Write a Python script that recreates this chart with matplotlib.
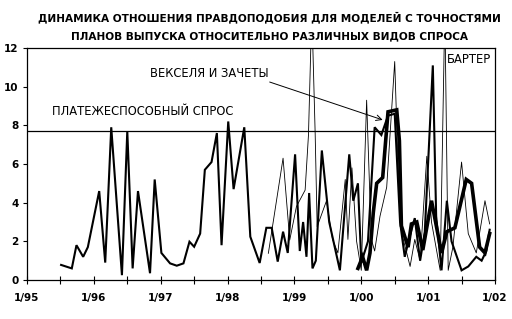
import matplotlib
matplotlib.use("Agg")
import matplotlib.pyplot as plt
from matplotlib import font_manager

# платежеспособный спрос (средняя линия)
solv_x = [1995.51, 1995.67, 1995.74, 1995.84, 1995.91, 1996.08, 1996.17, 1996.26, 1996.42,
          1996.50, 1996.58, 1996.66, 1996.84, 1996.91, 1997.01, 1997.14, 1997.24, 1997.34,
          1997.43, 1997.50, 1997.59, 1997.66, 1997.76, 1997.84, 1997.91, 1998.01, 1998.09,
          1998.25, 1998.34, 1998.48, 1998.58, 1998.66, 1998.75, 1998.83, 1998.90, 1999.01,
          1999.08, 1999.13, 1999.18, 1999.22, 1999.27, 1999.32, 1999.41, 1999.52, 1999.68,
          1999.82, 1999.88, 1999.95, 2000.00, 2000.10, 2000.20, 2000.30, 2000.40, 2000.50,
          2000.58, 2000.65, 2000.72, 2000.80, 2000.88, 2000.95, 2001.07, 2001.12, 2001.20,
          2001.28, 2001.35, 2001.50, 2001.60, 2001.72, 2001.80, 2001.87, 2001.92]
solv_y = [0.78, 0.60, 1.80, 1.20, 1.70, 4.60, 0.90, 7.90, 0.25,
          7.70, 0.60, 4.60, 0.35, 5.20, 1.40, 0.86, 0.74, 0.86,
          1.98, 1.72, 2.40, 5.70, 6.10, 7.60, 1.80, 8.20, 4.70,
          7.90, 2.24, 0.88, 2.70, 2.70, 0.95, 2.50, 1.40, 6.50,
          1.50, 3.00, 1.20, 4.50, 0.60, 1.00, 6.70, 3.00, 0.50,
          6.50, 4.10, 5.00, 0.90, 2.00, 7.90, 7.50, 8.50, 8.60,
          3.00, 1.20, 2.20, 3.20, 1.00, 2.50, 11.10, 3.30, 0.50,
          4.10, 2.00, 0.50, 0.70, 1.20, 1.00, 1.50, 2.60]

# бартер (тонкая линия)
barter_x = [1998.61, 1998.83, 1998.93, 1999.03, 1999.16, 1999.21, 1999.26, 1999.31, 1999.34,
            1999.48, 1999.57, 1999.65, 1999.76, 1999.80, 1999.86, 1999.93, 2000.00, 2000.08,
            2000.15, 2000.20, 2000.28, 2000.38, 2000.50, 2000.55, 2000.62, 2000.68, 2000.73,
            2000.80, 2000.88, 2000.98, 2001.05, 2001.18, 2001.25, 2001.30, 2001.37, 2001.50,
            2001.60, 2001.72, 2001.85, 2001.92]
barter_y = [1.38, 6.30, 2.07, 3.80, 4.65, 7.50, 14.0, 7.60, 2.76,
            4.10, 2.10, 1.40, 5.20, 2.10, 5.80, 2.00, 0.50, 9.30,
            2.10, 1.50, 3.30, 4.80, 11.30, 5.90, 2.20, 1.40, 0.70,
            2.10, 1.00, 6.40, 3.00, 0.50, 14.0, 0.50, 1.70, 6.10,
            2.40, 1.40, 4.10, 2.90]

# векселя и зачеты (толстая линия)
bills_x = [1999.95, 2000.02, 2000.08, 2000.13, 2000.18, 2000.23, 2000.32, 2000.40, 2000.53,
           2000.57, 2000.60, 2000.70, 2000.75, 2000.83, 2000.92, 2001.05, 2001.20, 2001.28,
           2001.40, 2001.57, 2001.65, 2001.77, 2001.85, 2001.92]
bills_y = [0.60, 1.20, 0.50, 1.40, 3.50, 5.00, 5.30, 8.70, 8.80,
           7.20, 2.80, 1.70, 2.90, 3.00, 1.55, 4.10, 1.40, 2.50,
           2.70, 5.20, 5.00, 1.70, 1.40, 2.40]

solvent_level = 7.7
year_ticks = list(range(1995, 2003))
year_labels = ["1/95", "1/96", "1/97", "1/98", "1/99", "1/00", "1/01", "1/02"]
y_ticks = [0, 2, 4, 6, 8, 10, 12]

title = ("ДИНАМИКА ОТНОШЕНИЯ ПРАВДОПОДОБИЯ ДЛЯ МОДЕЛЕЙ С ТОЧНОСТЯМИ\n"
         "ПЛАНОВ ВЫПУСКА ОТНОСИТЕЛЬНО РАЗЛИЧНЫХ ВИДОВ СПРОСА")

# узкий шрифт, если есть; иначе обычный DejaVu поменьше
names = {f.name for f in font_manager.fontManager.ttflist}
if 'DejaVu Sans Condensed' in names:
    narrow, k = 'DejaVu Sans Condensed', 1.1
elif 'Liberation Sans Narrow' in names:
    narrow, k = 'Liberation Sans Narrow', 1.2
else:
    narrow, k = 'DejaVu Sans', 1.0
plt.rcParams['font.family'] = [narrow, 'DejaVu Sans']

fig = plt.figure(figsize=(5.12, 3.19), dpi=100, facecolor='w')
ax = fig.add_axes([27 / 512, 1 - 280 / 319, 468 / 512, 232 / 319])

ax.plot(solv_x, solv_y, color='k', linewidth=1.5, solid_joinstyle='miter')
ax.plot(barter_x, barter_y, color='k', linewidth=0.6)
ax.plot(bills_x, bills_y, color='k', linewidth=2.6, solid_joinstyle='miter')
ax.axhline(solvent_level, color='k', linewidth=0.9)

ax.set_xlim(1995, 2002)
ax.set_ylim(0, 12)
ax.set_xticks(year_ticks)
ax.set_xticklabels(year_labels, fontweight='bold', fontsize=7.5 * k)
ax.set_xticks([y + 0.5 for y in year_ticks[:-1]], minor=True)
ax.set_yticks(y_ticks)
ax.set_yticklabels([str(v) for v in y_ticks], fontweight='bold', fontsize=7.5 * k)
ax.tick_params(axis='x', which='both', direction='inout', length=6, width=0.8, pad=6)
ax.tick_params(axis='y', direction='out', length=3, width=0.8, pad=3)
for s in ax.spines.values():
    s.set_linewidth(0.9)

ax.text(1995.37, 8.7, "ПЛАТЕЖЕСПОСОБНЫЙ СПРОС", fontsize=8.3 * k, va='center', ha='left')
ax.text(1998.62, 10.66, "ВЕКСЕЛЯ И ЗАЧЕТЫ", fontsize=8.3 * k, va='center', ha='right')
ax.annotate("", xy=(2000.32, 8.28), xytext=(1998.63, 10.24),
            arrowprops=dict(arrowstyle='->', color='k', linewidth=0.7, shrinkA=0, shrinkB=0))
ax.text(2001.28, 11.4, "БАРТЕР", fontsize=8.3 * k, va='center', ha='left')

fig.text(0.527, 1 - 26.5 / 319, title, ha='center', va='center', fontsize=7.6 * k,
         fontweight='bold', linespacing=2.05)

fig.savefig("out.png", dpi=100)
plt.close()
